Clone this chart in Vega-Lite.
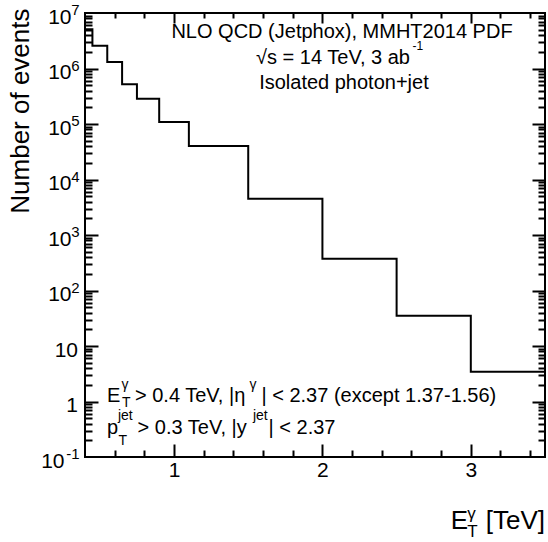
{
  "$schema": "https://vega.github.io/schema/vega-lite/v6.json",
  "width": 460,
  "height": 444,
  "autosize": {"type": "none"},
  "padding": {"left": 85, "top": 13, "right": 3, "bottom": 85},
  "background": "white",
  "config": {
    "view": {"stroke": "black", "strokeWidth": 2},
    "axis": {"domain": false, "grid": false, "labelFlush": false, "labelOverlap": false},
    "text": {"font": "Liberation Sans", "color": "black"}
  },
  "data": {"values": [
    {"ET": 0.4, "N": 5080000},
    {"ET": 0.45, "N": 2580000},
    {"ET": 0.55, "N": 1310000},
    {"ET": 0.65, "N": 519000},
    {"ET": 0.75, "N": 286000},
    {"ET": 0.9, "N": 109000},
    {"ET": 1.1, "N": 40200},
    {"ET": 1.5, "N": 4510},
    {"ET": 2.0, "N": 374},
    {"ET": 2.5, "N": 35.2},
    {"ET": 3.0, "N": 3.44},
    {"ET": 3.5, "N": 3.44}
  ]},
  "resolve": {"scale": {"x": "shared", "y": "shared"}, "axis": {"x": "independent", "y": "independent"}},
  "layer": [
    {
      "mark": {"type": "line", "interpolate": "step-after", "color": "black", "strokeWidth": 2},
      "encoding": {
        "x": {"field": "ET", "type": "quantitative", "scale": {"domain": [0.4, 3.5], "nice": false, "zero": false},
              "axis": {"orient": "bottom", "values": [1, 2, 3], "format": "d", "domain": false, "grid": false, "ticks": false, "tickSize": 0, "labelFont": "Liberation Sans", "labelFontSize": 21, "labelColor": "black", "labelPadding": 2.5, "labelBaseline": "top", "title": null}},
        "y": {"field": "N", "type": "quantitative", "scale": {"type": "log", "domain": [0.1, 10000000], "nice": false},
              "axis": {"orient": "left", "values": [100, 1000, 10000, 100000, 1000000, 10000000], "labelExpr": "'10'", "domain": false, "grid": false, "ticks": false, "tickSize": 0, "labelFont": "Liberation Sans", "labelFontSize": 21, "labelColor": "black", "labelPadding": 14, "labelOffset": 4, "title": null}}
      }
    },
    {
      "mark": {"type": "line", "opacity": 0},
      "encoding": {
        "x": {"field": "ET", "type": "quantitative", "axis": {"orient": "bottom", "values": [1, 2, 3], "offset": -13, "domain": false, "grid": false, "ticks": true, "tickSize": 13, "tickColor": "black", "tickWidth": 2, "labels": false, "title": null}},
        "y": {"field": "N", "type": "quantitative", "axis": {"orient": "left", "values": [1, 10], "labelExpr": "datum.value < 5 ? '1' : '10'", "domain": false, "grid": false, "ticks": false, "tickSize": 0, "labelFont": "Liberation Sans", "labelFontSize": 21, "labelColor": "black", "labelPadding": 7.5, "labelOffset": 4,
              "title": "Number of events", "titleFont": "Liberation Sans", "titleColor": "black", "titleFontSize": 26, "titleFontWeight": "normal", "titleAngle": 270, "titleAlign": "right", "titleBaseline": "middle", "titleX": -65, "titleY": -5}}
      }
    },
    {
      "mark": {"type": "line", "opacity": 0},
      "encoding": {
        "x": {"field": "ET", "type": "quantitative", "axis": {"orient": "bottom", "values": [0.6, 0.8, 1.2, 1.4, 1.6, 1.8, 2.2, 2.4, 2.6, 2.8, 3.2, 3.4], "offset": -7, "domain": false, "grid": false, "ticks": true, "tickSize": 7, "tickColor": "black", "tickWidth": 2, "labels": false, "title": null}},
        "y": {"field": "N", "type": "quantitative", "axis": {"orient": "left", "values": [0.1], "labelExpr": "'10'", "domain": false, "grid": false, "ticks": false, "tickSize": 0, "labelFont": "Liberation Sans", "labelFontSize": 21, "labelColor": "black", "labelPadding": 21, "labelOffset": 4, "title": null}}
      }
    },
    {
      "mark": {"type": "line", "opacity": 0},
      "encoding": {
        "x": {"field": "ET", "type": "quantitative", "axis": {"orient": "top", "values": [1, 2, 3], "offset": -10, "domain": false, "grid": false, "ticks": true, "tickSize": 10, "tickColor": "black", "tickWidth": 2, "labels": false, "title": null}},
        "y": {"field": "N", "type": "quantitative", "axis": {"orient": "left", "values": [1, 10, 100, 1000, 10000, 100000, 1000000], "offset": -13, "domain": false, "grid": false, "ticks": true, "tickSize": 13, "tickColor": "black", "tickWidth": 2, "labels": false, "title": null}}
      }
    },
    {
      "mark": {"type": "line", "opacity": 0},
      "encoding": {
        "x": {"field": "ET", "type": "quantitative", "axis": {"orient": "top", "values": [0.6, 0.8, 1.2, 1.4, 1.6, 1.8, 2.2, 2.4, 2.6, 2.8, 3.2, 3.4], "offset": -5, "domain": false, "grid": false, "ticks": true, "tickSize": 5, "tickColor": "black", "tickWidth": 2, "labels": false, "title": null}},
        "y": {"field": "N", "type": "quantitative", "axis": {"orient": "left", "values": [0.2, 0.3, 0.4, 0.5, 0.6, 0.7, 0.8, 0.9, 2, 3, 4, 5, 6, 7, 8, 9, 20, 30, 40, 50, 60, 70, 80, 90, 200, 300, 400, 500, 600, 700, 800, 900, 2000, 3000, 4000, 5000, 6000, 7000, 8000, 9000, 20000, 30000, 40000, 50000, 60000, 70000, 80000, 90000, 200000, 300000, 400000, 500000, 600000, 700000, 800000, 900000, 2000000, 3000000, 4000000, 5000000, 6000000, 7000000, 8000000, 9000000], "offset": -7, "domain": false, "grid": false, "ticks": true, "tickSize": 7, "tickColor": "black", "tickWidth": 2, "labels": false, "title": null}}
      }
    },
    {
      "mark": {"type": "line", "opacity": 0},
      "encoding": {
        "x": {"field": "ET", "type": "quantitative", "axis": null},
        "y": {"field": "N", "type": "quantitative", "axis": {"orient": "right", "values": [1, 10, 100, 1000, 10000, 100000, 1000000], "offset": -13, "domain": false, "grid": false, "ticks": true, "tickSize": 13, "tickColor": "black", "tickWidth": 2, "labels": false, "title": null}}
      }
    },
    {
      "mark": {"type": "line", "opacity": 0},
      "encoding": {
        "x": {"field": "ET", "type": "quantitative", "axis": null},
        "y": {"field": "N", "type": "quantitative", "axis": {"orient": "right", "values": [0.2, 0.3, 0.4, 0.5, 0.6, 0.7, 0.8, 0.9, 2, 3, 4, 5, 6, 7, 8, 9, 20, 30, 40, 50, 60, 70, 80, 90, 200, 300, 400, 500, 600, 700, 800, 900, 2000, 3000, 4000, 5000, 6000, 7000, 8000, 9000, 20000, 30000, 40000, 50000, 60000, 70000, 80000, 90000, 200000, 300000, 400000, 500000, 600000, 700000, 800000, 900000, 2000000, 3000000, 4000000, 5000000, 6000000, 7000000, 8000000, 9000000], "offset": -7, "domain": false, "grid": false, "ticks": true, "tickSize": 7, "tickColor": "black", "tickWidth": 2, "labels": false, "title": null}}
      }
    },
    {
      "data": {"values": [{"v": 10000000, "e": "7"}, {"v": 1000000, "e": "6"}, {"v": 100000, "e": "5"}, {"v": 10000, "e": "4"}, {"v": 1000, "e": "3"}, {"v": 100, "e": "2"}, {"v": 0.1, "e": "-1"}]},
      "mark": {"type": "text", "align": "right", "baseline": "alphabetic", "fontSize": 15, "dx": -5.5, "dy": 2},
      "encoding": {"x": {"datum": 0.4, "type": "quantitative", "axis": null}, "y": {"field": "v", "type": "quantitative", "axis": null}, "text": {"field": "e"}}
    },
    {
      "data": {"values": [{}]},
      "layer": [
        {
          "mark": {"type": "text", "align": "center", "baseline": "alphabetic", "fontSize": 20},
          "encoding": {"x": {"datum": 2.132, "type": "quantitative", "axis": null}, "y": {"datum": 3500000, "type": "quantitative", "axis": null}, "text": {"value": "NLO QCD (Jetphox), MMHT2014 PDF"}}
        },
        {
          "mark": {"type": "text", "align": "right", "baseline": "alphabetic", "fontSize": 20},
          "encoding": {"x": {"datum": 2.59, "type": "quantitative", "axis": null}, "y": {"datum": 1230000, "type": "quantitative", "axis": null}, "text": {"value": "√s = 14 TeV, 3 ab"}}
        },
        {
          "mark": {"type": "text", "align": "left", "baseline": "alphabetic", "fontSize": 12, "dy": -13.5},
          "encoding": {"x": {"datum": 2.607, "type": "quantitative", "axis": null}, "y": {"datum": 1230000, "type": "quantitative", "axis": null}, "text": {"value": "-1"}}
        },
        {
          "mark": {"type": "text", "align": "center", "baseline": "alphabetic", "fontSize": 20},
          "encoding": {"x": {"datum": 2.145, "type": "quantitative", "axis": null}, "y": {"datum": 436000, "type": "quantitative", "axis": null}, "text": {"value": "Isolated photon+jet"}}
        },
        {
          "mark": {"type": "text", "align": "left", "baseline": "alphabetic", "fontSize": 20},
          "encoding": {"x": {"datum": 0.548, "type": "quantitative", "axis": null}, "y": {"datum": 1, "type": "quantitative", "axis": null}, "text": {"value": "E"}}
        },
        {
          "mark": {"type": "text", "align": "left", "baseline": "alphabetic", "fontSize": 14, "dy": 5},
          "encoding": {"x": {"datum": 0.649, "type": "quantitative", "axis": null}, "y": {"datum": 1, "type": "quantitative", "axis": null}, "text": {"value": "T"}}
        },
        {
          "mark": {"type": "text", "align": "left", "baseline": "alphabetic", "fontSize": 14, "dy": -12.7},
          "encoding": {"x": {"datum": 0.646, "type": "quantitative", "axis": null}, "y": {"datum": 1, "type": "quantitative", "axis": null}, "text": {"value": "γ"}}
        },
        {
          "mark": {"type": "text", "align": "left", "baseline": "alphabetic", "fontSize": 20},
          "encoding": {"x": {"datum": 0.737, "type": "quantitative", "axis": null}, "y": {"datum": 1, "type": "quantitative", "axis": null}, "text": {"value": "> 0.4 TeV, |η"}}
        },
        {
          "mark": {"type": "text", "align": "left", "baseline": "alphabetic", "fontSize": 14, "dy": -12.7},
          "encoding": {"x": {"datum": 1.508, "type": "quantitative", "axis": null}, "y": {"datum": 1, "type": "quantitative", "axis": null}, "text": {"value": "γ"}}
        },
        {
          "mark": {"type": "text", "align": "left", "baseline": "alphabetic", "fontSize": 20},
          "encoding": {"x": {"datum": 1.589, "type": "quantitative", "axis": null}, "y": {"datum": 1, "type": "quantitative", "axis": null}, "text": {"value": "| < 2.37 (except 1.37-1.56)"}}
        },
        {
          "mark": {"type": "text", "align": "left", "baseline": "alphabetic", "fontSize": 20},
          "encoding": {"x": {"datum": 0.548, "type": "quantitative", "axis": null}, "y": {"datum": 0.265, "type": "quantitative", "axis": null}, "text": {"value": "p"}}
        },
        {
          "mark": {"type": "text", "align": "left", "baseline": "alphabetic", "fontSize": 14, "dy": 11.5},
          "encoding": {"x": {"datum": 0.626, "type": "quantitative", "axis": null}, "y": {"datum": 0.265, "type": "quantitative", "axis": null}, "text": {"value": "T"}}
        },
        {
          "mark": {"type": "text", "align": "left", "baseline": "alphabetic", "fontSize": 14, "dy": -13.5},
          "encoding": {"x": {"datum": 0.622, "type": "quantitative", "axis": null}, "y": {"datum": 0.265, "type": "quantitative", "axis": null}, "text": {"value": "jet"}}
        },
        {
          "mark": {"type": "text", "align": "left", "baseline": "alphabetic", "fontSize": 20},
          "encoding": {"x": {"datum": 0.754, "type": "quantitative", "axis": null}, "y": {"datum": 0.265, "type": "quantitative", "axis": null}, "text": {"value": "> 0.3 TeV, |y"}}
        },
        {
          "mark": {"type": "text", "align": "left", "baseline": "alphabetic", "fontSize": 14, "dy": -13.5},
          "encoding": {"x": {"datum": 1.532, "type": "quantitative", "axis": null}, "y": {"datum": 0.265, "type": "quantitative", "axis": null}, "text": {"value": "jet"}}
        },
        {
          "mark": {"type": "text", "align": "left", "baseline": "alphabetic", "fontSize": 20},
          "encoding": {"x": {"datum": 1.637, "type": "quantitative", "axis": null}, "y": {"datum": 0.265, "type": "quantitative", "axis": null}, "text": {"value": "| < 2.37"}}
        },
        {
          "mark": {"type": "text", "align": "left", "baseline": "alphabetic", "fontSize": 26, "dy": 72},
          "encoding": {"x": {"datum": 2.865, "type": "quantitative", "axis": null}, "y": {"datum": 0.1, "type": "quantitative", "axis": null}, "text": {"value": "E"}}
        },
        {
          "mark": {"type": "text", "align": "left", "baseline": "alphabetic", "fontSize": 17, "dy": 80},
          "encoding": {"x": {"datum": 2.976, "type": "quantitative", "axis": null}, "y": {"datum": 0.1, "type": "quantitative", "axis": null}, "text": {"value": "T"}}
        },
        {
          "mark": {"type": "text", "align": "left", "baseline": "alphabetic", "fontSize": 17, "dy": 61.5},
          "encoding": {"x": {"datum": 2.976, "type": "quantitative", "axis": null}, "y": {"datum": 0.1, "type": "quantitative", "axis": null}, "text": {"value": "γ"}}
        },
        {
          "mark": {"type": "text", "align": "right", "baseline": "alphabetic", "fontSize": 26, "dy": 72},
          "encoding": {"x": {"datum": 3.5, "type": "quantitative", "axis": null}, "y": {"datum": 0.1, "type": "quantitative", "axis": null}, "text": {"value": "[TeV]"}}
        }
      ]
    }
  ]
}
